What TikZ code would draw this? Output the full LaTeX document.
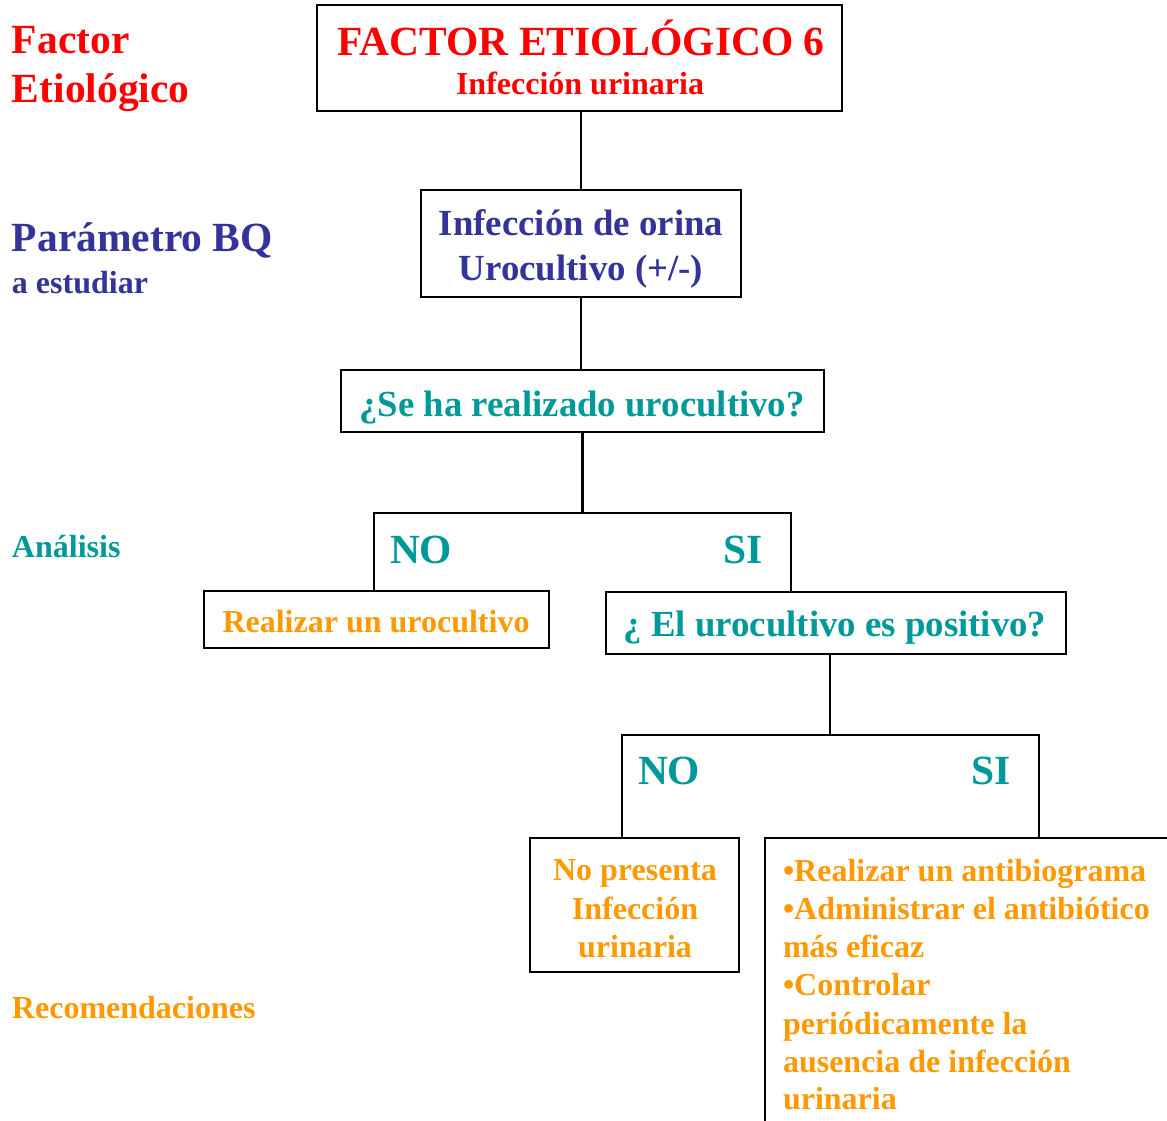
\documentclass[tikz,border=0pt]{standalone}
\usepackage{fontspec}
\setmainfont{Liberation Serif}
\definecolor{cred}{HTML}{FF0000}
\definecolor{cblue}{HTML}{333399}
\definecolor{cteal}{HTML}{009999}
\definecolor{corange}{HTML}{FF9900}
\begin{document}
\begin{tikzpicture}[x=1pt,y=-1pt,
  box/.style={draw=black, line width=2.5pt, inner sep=0pt, outer sep=0pt, anchor=north west},
  lnk/.style={draw=black, line width=2.5pt},
  tc/.style={inner sep=0pt, outer sep=0pt, anchor=base},
  tl/.style={inner sep=0pt, outer sep=0pt, anchor=base west},
  tr/.style={inner sep=0pt, outer sep=0pt, anchor=base east},
  fA/.style={font=\fontsize{41.5}{49}\selectfont\bfseries},
  fB/.style={font=\fontsize{36.8}{43}\selectfont\bfseries},
  fC/.style={font=\fontsize{32}{38}\selectfont\bfseries},
]
\clip (0,0) rectangle (1167,1121);
\fill[white] (0,0) rectangle (1167,1121);

% boxes
\node[box, minimum width=525pt, minimum height=106pt] (b1) at (317,5) {};
\node[box, minimum width=320pt, minimum height=107pt] (b2) at (421,190) {};
\node[box, minimum width=483pt, minimum height=62pt] (b3) at (341,370) {};
\node[box, minimum width=345pt, minimum height=57pt] (b4) at (204,591) {};
\node[box, minimum width=460pt, minimum height=62pt] (b5) at (606,592) {};
\node[box, minimum width=209pt, minimum height=134pt] (b6) at (530,838) {};
\node[box, minimum width=430pt, minimum height=320pt] (b7) at (765,838) {};

% junction coordinates
\coordinate (noA) at (374,513);
\coordinate (siA) at (791,513);
\coordinate (j2) at (830,735);
\coordinate (noB) at (622,735);
\coordinate (siB) at (1039,735);

% connectors
\draw[lnk] (b2.north) -- (b2.north |- b1.south);
\draw[lnk] (b2.south) -- (b2.south |- b3.north);
\draw[lnk] (b3.south) -- (b3.south |- noA);
\draw[lnk] (noA |- b4.north) -- (noA) -- (siA) -- (siA |- b5.north);
\draw[lnk] (j2 |- b5.south) -- (j2);
\draw[lnk] (noB |- b6.north) -- (noB) -- (siB) -- (siB |- b7.north);

% left labels
\node[tl, fA, text=cred] (lf1) at (12,54) {Factor};
\node[tl, fA, text=cred] (lf2) at (12,103) {Etiológico};
\node[tl, fA, text=cblue] (lp1) at (12,251) {Parámetro BQ};
\node[tl, fC, text=cblue] (lp2) at (12,293) {a estudiar};
\node[tl, fC, text=cteal] (la) at (12,557) {Análisis};
\node[tl, fC, text=corange] (lr) at (12,1018) {Recomendaciones};

% box texts
\node[tc, fA, text=cred] (t1a) at (581,56) {FACTOR ETIOLÓGICO 6};
\node[tc, fC, text=cred] (t1b) at (580,95) {Infección urinaria};
\node[tc, fB, text=cblue] (t2a) at (581,235) {Infección de orina};
\node[tc, fB, text=cblue] (t2b) at (581,280) {Urocultivo (+/-)};
\node[tc, fB, text=cteal] (t3) at (582,416) {¿Se ha realizado urocultivo?};
\node[tl, fA, text=cteal] (no1) at (390,563) {NO};
\node[tr, fA, text=cteal] (si1) at (763,563) {SI};
\node[tc, fC, text=corange] (t4) at (376,632) {Realizar un urocultivo};
\node[tc, fB, text=cteal] (t5) at (835,636) {¿ El urocultivo es positivo?};
\node[tl, fA, text=cteal] (no2) at (638,784) {NO};
\node[tr, fA, text=cteal] (si2) at (1011,784) {SI};
\node[tc, fC, text=corange] (t6a) at (635,880) {No presenta};
\node[tc, fC, text=corange] (t6b) at (635,919) {Infección};
\node[tc, fC, text=corange] (t6c) at (635,957) {urinaria};
\node[tl, fC, text=corange] (t7a) at (783,881) {•Realizar un antibiograma};
\node[tl, fC, text=corange] (t7b) at (783,919) {•Administrar el antibiótico};
\node[tl, fC, text=corange] (t7c) at (783,957) {más eficaz};
\node[tl, fC, text=corange] (t7d) at (783,995) {•Controlar};
\node[tl, fC, text=corange] (t7e) at (783,1034) {periódicamente la};
\node[tl, fC, text=corange] (t7f) at (783,1072) {ausencia de infección};
\node[tl, fC, text=corange] (t7g) at (783,1109) {urinaria};
\end{tikzpicture}
\end{document}
